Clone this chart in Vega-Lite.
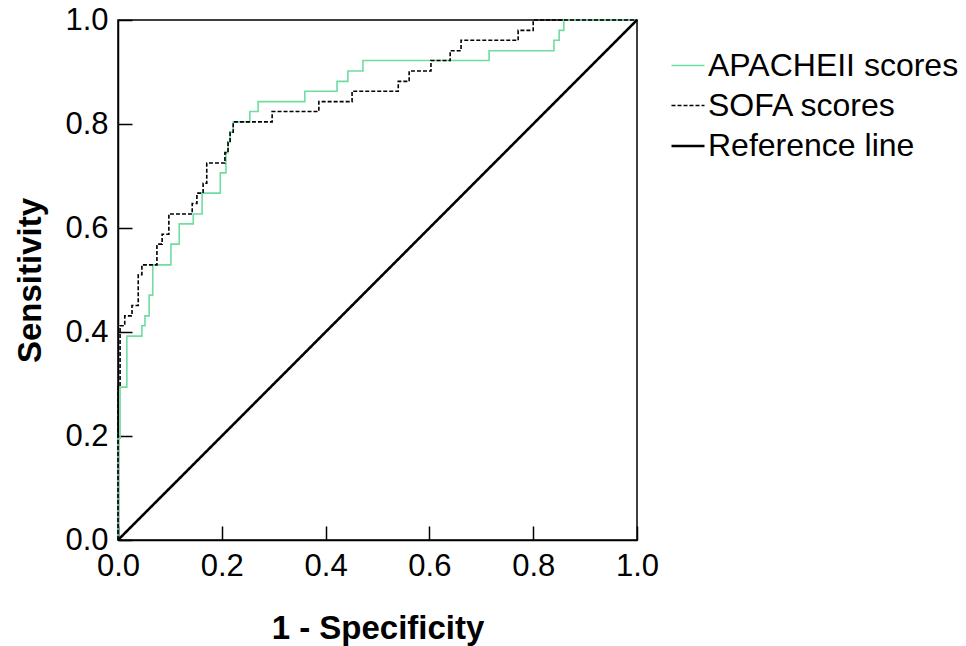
{
  "$schema": "https://vega.github.io/schema/vega-lite/v6.json",
  "width": 519,
  "height": 520,
  "autosize": {"type": "none"},
  "padding": {"left": 118, "top": 20, "right": 329, "bottom": 106},
  "background": "white",
  "config": {
    "font": "Liberation Sans",
    "view": {"stroke": "#000000", "strokeWidth": 1.5},
    "axis": {
      "grid": false,
      "labelFontSize": 31,
      "labelColor": "#000000",
      "labelFlush": false,
      "labelOverlap": false,
      "titleFontSize": 33,
      "titleFontWeight": "bold",
      "titleColor": "#000000",
      "domainColor": "#000000",
      "domainWidth": 1.5,
      "tickColor": "#000000",
      "tickWidth": 1.5,
      "tickSize": -14,
      "labelPadding": 25
    }
  },
  "datasets": {
    "roc": [
      {"series": "APACHEII scores", "i": 0, "fpr": 0, "tpr": 0},
      {"series": "APACHEII scores", "i": 1, "fpr": 0, "tpr": 0.196},
      {"series": "APACHEII scores", "i": 2, "fpr": 0.004, "tpr": 0.294},
      {"series": "APACHEII scores", "i": 3, "fpr": 0.017, "tpr": 0.392},
      {"series": "APACHEII scores", "i": 4, "fpr": 0.046, "tpr": 0.412},
      {"series": "APACHEII scores", "i": 5, "fpr": 0.052, "tpr": 0.431},
      {"series": "APACHEII scores", "i": 6, "fpr": 0.060, "tpr": 0.471},
      {"series": "APACHEII scores", "i": 7, "fpr": 0.067, "tpr": 0.529},
      {"series": "APACHEII scores", "i": 8, "fpr": 0.102, "tpr": 0.569},
      {"series": "APACHEII scores", "i": 9, "fpr": 0.118, "tpr": 0.608},
      {"series": "APACHEII scores", "i": 10, "fpr": 0.145, "tpr": 0.627},
      {"series": "APACHEII scores", "i": 11, "fpr": 0.162, "tpr": 0.667},
      {"series": "APACHEII scores", "i": 12, "fpr": 0.197, "tpr": 0.706},
      {"series": "APACHEII scores", "i": 13, "fpr": 0.208, "tpr": 0.745},
      {"series": "APACHEII scores", "i": 14, "fpr": 0.212, "tpr": 0.765},
      {"series": "APACHEII scores", "i": 15, "fpr": 0.216, "tpr": 0.784},
      {"series": "APACHEII scores", "i": 16, "fpr": 0.222, "tpr": 0.804},
      {"series": "APACHEII scores", "i": 17, "fpr": 0.254, "tpr": 0.824},
      {"series": "APACHEII scores", "i": 18, "fpr": 0.270, "tpr": 0.843},
      {"series": "APACHEII scores", "i": 19, "fpr": 0.360, "tpr": 0.863},
      {"series": "APACHEII scores", "i": 20, "fpr": 0.422, "tpr": 0.882},
      {"series": "APACHEII scores", "i": 21, "fpr": 0.443, "tpr": 0.902},
      {"series": "APACHEII scores", "i": 22, "fpr": 0.472, "tpr": 0.922},
      {"series": "APACHEII scores", "i": 23, "fpr": 0.715, "tpr": 0.941},
      {"series": "APACHEII scores", "i": 24, "fpr": 0.840, "tpr": 0.961},
      {"series": "APACHEII scores", "i": 25, "fpr": 0.850, "tpr": 0.980},
      {"series": "APACHEII scores", "i": 26, "fpr": 0.859, "tpr": 1.0},
      {"series": "APACHEII scores", "i": 27, "fpr": 1.0, "tpr": 1.0},
      {"series": "SOFA scores", "i": 0, "fpr": 0, "tpr": 0},
      {"series": "SOFA scores", "i": 1, "fpr": 0, "tpr": 0.294},
      {"series": "SOFA scores", "i": 2, "fpr": 0.004, "tpr": 0.412},
      {"series": "SOFA scores", "i": 3, "fpr": 0.013, "tpr": 0.431},
      {"series": "SOFA scores", "i": 4, "fpr": 0.027, "tpr": 0.451},
      {"series": "SOFA scores", "i": 5, "fpr": 0.039, "tpr": 0.510},
      {"series": "SOFA scores", "i": 6, "fpr": 0.046, "tpr": 0.529},
      {"series": "SOFA scores", "i": 7, "fpr": 0.075, "tpr": 0.569},
      {"series": "SOFA scores", "i": 8, "fpr": 0.085, "tpr": 0.588},
      {"series": "SOFA scores", "i": 9, "fpr": 0.098, "tpr": 0.627},
      {"series": "SOFA scores", "i": 10, "fpr": 0.143, "tpr": 0.647},
      {"series": "SOFA scores", "i": 11, "fpr": 0.152, "tpr": 0.667},
      {"series": "SOFA scores", "i": 12, "fpr": 0.164, "tpr": 0.686},
      {"series": "SOFA scores", "i": 13, "fpr": 0.171, "tpr": 0.725},
      {"series": "SOFA scores", "i": 14, "fpr": 0.206, "tpr": 0.745},
      {"series": "SOFA scores", "i": 15, "fpr": 0.212, "tpr": 0.765},
      {"series": "SOFA scores", "i": 16, "fpr": 0.216, "tpr": 0.784},
      {"series": "SOFA scores", "i": 17, "fpr": 0.222, "tpr": 0.804},
      {"series": "SOFA scores", "i": 18, "fpr": 0.297, "tpr": 0.824},
      {"series": "SOFA scores", "i": 19, "fpr": 0.387, "tpr": 0.843},
      {"series": "SOFA scores", "i": 20, "fpr": 0.451, "tpr": 0.863},
      {"series": "SOFA scores", "i": 21, "fpr": 0.540, "tpr": 0.882},
      {"series": "SOFA scores", "i": 22, "fpr": 0.561, "tpr": 0.902},
      {"series": "SOFA scores", "i": 23, "fpr": 0.603, "tpr": 0.922},
      {"series": "SOFA scores", "i": 24, "fpr": 0.640, "tpr": 0.941},
      {"series": "SOFA scores", "i": 25, "fpr": 0.661, "tpr": 0.961},
      {"series": "SOFA scores", "i": 26, "fpr": 0.771, "tpr": 0.980},
      {"series": "SOFA scores", "i": 27, "fpr": 0.800, "tpr": 1.0},
      {"series": "SOFA scores", "i": 28, "fpr": 1.0, "tpr": 1.0}
    ],
    "ref": [
      {"series": "Reference line", "i": 0, "fpr": 0, "tpr": 0},
      {"series": "Reference line", "i": 1, "fpr": 1, "tpr": 1}
    ]
  },
  "encoding": {
    "x": {
      "field": "fpr", "type": "quantitative",
      "scale": {"domain": [0, 1], "nice": false},
      "axis": {"title": "1 - Specificity", "values": [0, 0.2, 0.4, 0.6, 0.8, 1], "format": ".1f", "titleX": 259.5, "titleY": 88, "titleBaseline": "middle", "titleAlign": "center"}
    },
    "y": {
      "field": "tpr", "type": "quantitative",
      "scale": {"domain": [0, 1], "nice": false},
      "axis": {"title": "Sensitivity", "values": [0, 0.2, 0.4, 0.6, 0.8, 1], "format": ".1f", "titleX": -88, "titleY": 260, "titleBaseline": "middle", "titleAlign": "center", "titleAngle": -90, "labelPadding": 24}
    },
    "order": {"field": "i", "type": "quantitative"},
    "color": {
      "field": "series", "type": "nominal",
      "scale": {"domain": ["APACHEII scores", "SOFA scores", "Reference line"], "range": ["#6fdca0", "#000000", "#000000"]},
      "legend": {
        "title": null, "orient": "none", "legendX": 552, "legendY": 28,
        "labelFontSize": 32, "labelColor": "#000000", "labelOffset": 2, "labelLimit": 0,
        "symbolType": "stroke", "symbolSize": 1089, "rowPadding": 6, "padding": 0
      }
    },
    "strokeDash": {
      "field": "series", "type": "nominal",
      "scale": {"domain": ["APACHEII scores", "SOFA scores", "Reference line"], "range": [[1, 0], [4, 2], [1, 0]]}
    },
    "strokeWidth": {
      "field": "series", "type": "nominal",
      "scale": {"type": "ordinal", "domain": ["APACHEII scores", "SOFA scores", "Reference line"], "range": [1.6, 1.6, 2.6]}
    }
  },
  "layer": [
    {"data": {"name": "roc"}, "mark": {"type": "line", "interpolate": "step-after"}},
    {"data": {"name": "ref"}, "mark": {"type": "line"}}
  ]
}
